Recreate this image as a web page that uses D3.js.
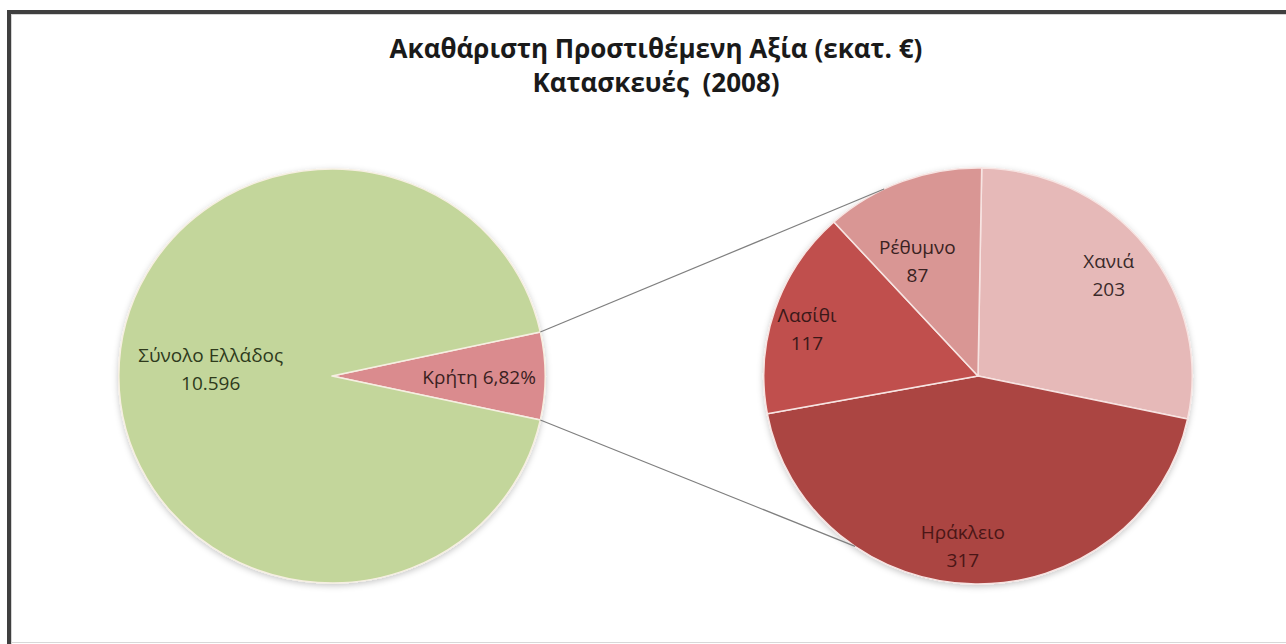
<!DOCTYPE html>
<html><head><meta charset="utf-8">
<script src="https://cdn.jsdelivr.net/npm/d3@7"></script>
<style>html,body{margin:0;padding:0;background:#fff;overflow:hidden}</style>
</head><body>
<svg id="chart" width="1286" height="644"></svg>
<script>
// ---- data ----
const titleLines = ["Ακαθάριστη Προστιθέμενη Αξία (εκατ. €)", "Κατασκευές  (2008)"];
const mainCategories = ["Κρήτη", "Σύνολο Ελλάδος"];
const cretePercent = 6.82;
const greeceTotal = 10596;
const regions = ["Χανιά", "Ηράκλειο", "Λασίθι", "Ρέθυμνο"];
const regionValues = [203, 317, 117, 87];

// ---- styles / layout ----
const mainColors = ["#da8b8e", "#c3d69b"];
const regionColors = ["#e6b9b8", "#ab4442", "#c0504d", "#d99694"];
const W = 1286, H = 644;
const sx = 1.03;                      // slight horizontal stretch of the source
const left = {cx: 332, cy: 376, r: 207};
const right = {cx: 978, cy: 376, r: 208};
const deg = Math.PI / 180;
const locale = d3.formatLocale({decimal: ",", thousands: ".", grouping: [3], currency: ["", "€"]});
const fmtInt = locale.format(",d");
const fmtPct = locale.format(".2f");

const svg = d3.select("#chart");
const defs = svg.append("defs");
const f = defs.append("filter").attr("id", "sh").attr("x", "-10%").attr("y", "-10%").attr("width", "120%").attr("height", "125%");
f.append("feDropShadow").attr("dx", 0).attr("dy", 2).attr("stdDeviation", 3).attr("flood-color", "#000").attr("flood-opacity", 0.22);

// frame
svg.append("rect").attr("x", 0).attr("y", 0).attr("width", W).attr("height", H).attr("fill", "#fff");
svg.append("rect").attr("x", 11).attr("y", 14).attr("width", W - 11).attr("height", 1).attr("fill", "#d4d4d4");
svg.append("rect").attr("x", 11).attr("y", 14).attr("width", 1).attr("height", H - 14).attr("fill", "#d4d4d4");
svg.append("rect").attr("x", 7).attr("y", 10).attr("width", W - 7).attr("height", 4).attr("fill", "#3f3f3f");
svg.append("rect").attr("x", 7).attr("y", 10).attr("width", 4).attr("height", H - 10).attr("fill", "#3f3f3f");
svg.append("rect").attr("x", 11).attr("y", H - 2).attr("width", W - 11).attr("height", 1).attr("fill", "#d8d8d8");

// title
const font = "'Open Sans', 'Noto Sans', 'DejaVu Sans', sans-serif";
const t = svg.append("g").attr("font-family", font).attr("font-weight", "bold").attr("fill", "#1a1a1a").attr("text-anchor", "middle");
t.append("text").attr("x", 656).attr("y", 58).attr("font-size", 26).text(titleLines[0]);
t.append("text").attr("x", 656).attr("y", 92).attr("font-size", 26).style("white-space", "pre").text(titleLines[1]);

// ---- left pie ----
const creteAngle = cretePercent / 100 * 2 * Math.PI;
const leftPie = d3.pie().sort(null).value(d => d)
  .startAngle(Math.PI / 2 - creteAngle / 2).endAngle(Math.PI / 2 - creteAngle / 2 + 2 * Math.PI);
const leftArcs = leftPie([cretePercent, 100 - cretePercent]);
const arcL = d3.arc().innerRadius(0).outerRadius(left.r);

const gL = svg.append("g").attr("transform", `translate(${left.cx},${left.cy}) scale(${sx},1)`).attr("filter", "url(#sh)");
gL.selectAll("path").data(leftArcs).join("path")
  .attr("d", arcL).attr("fill", (d, i) => mainColors[i])
  .attr("stroke", "#f6efe2").attr("stroke-width", 1.5).attr("stroke-linejoin", "round");

// ---- right pie ----
const rightStart = 1 * deg;
const rightPie = d3.pie().sort(null).value(d => d).startAngle(rightStart).endAngle(rightStart + 2 * Math.PI);
const rightArcs = rightPie(regionValues);
const arcR = d3.arc().innerRadius(0).outerRadius(right.r);
const gR = svg.append("g").attr("transform", `translate(${right.cx},${right.cy}) scale(${sx},1)`).attr("filter", "url(#sh)");
gR.selectAll("path").data(rightArcs).join("path")
  .attr("d", arcR).attr("fill", (d, i) => regionColors[i])
  .attr("stroke", "#f7e4e2").attr("stroke-width", 1.5).attr("stroke-linejoin", "round");

// ---- connector lines ----
function pt(c, a, r) { return [c.cx + Math.sin(a) * r * sx, c.cy - Math.cos(a) * r]; }
const crete = leftArcs[0];
const connectorTargets = [-26 * deg, 215 * deg];
const conns = [[pt(left, crete.startAngle, left.r), pt(right, connectorTargets[0], right.r)],
               [pt(left, crete.endAngle, left.r), pt(right, connectorTargets[1], right.r)]];
svg.append("g").selectAll("line").data(conns).join("line")
  .attr("x1", d => d[0][0]).attr("y1", d => d[0][1]).attr("x2", d => d[1][0]).attr("y2", d => d[1][1])
  .attr("stroke", "#7f7f7f").attr("stroke-width", 1.2);

// ---- labels ----
const lab = svg.append("g").attr("font-family", font).attr("font-size", 19).attr("text-anchor", "middle");
function midA(d) { return (d.startAngle + d.endAngle) / 2; }
// left: Greece (two lines), Crete (one line)
const gPos = pt(left, midA(leftArcs[1]) + 3.4 * deg, left.r * 0.57);
const gt = lab.append("text").attr("fill", "#2e3a1c").attr("x", gPos[0]).attr("y", gPos[1] - 7);
gt.append("tspan").attr("x", gPos[0]).text(mainCategories[1]);
gt.append("tspan").attr("x", gPos[0]).attr("dy", 28).text(fmtInt(greeceTotal));
const cPos = pt(left, midA(crete), left.r * 0.69);
lab.append("text").attr("fill", "#3a1f1f").attr("x", cPos[0]).attr("y", cPos[1] + 8)
  .text(mainCategories[0] + " " + fmtPct(cretePercent) + "%");

const labelRadius = [0.78, 0.82, 0.83, 0.62];
const labelAngleOffset = [0, 4.2, -2.8, -6.5];
const labelFill = ["#3a2a2a", "#4a1616", "#3a1818", "#3a2222"];
rightArcs.forEach((d, i) => {
  const p = pt(right, midA(d) + labelAngleOffset[i] * deg, right.r * labelRadius[i]);
  const tx = lab.append("text").attr("fill", labelFill[i]).attr("x", p[0]).attr("y", p[1] - 7);
  tx.append("tspan").attr("x", p[0]).text(regions[i]);
  tx.append("tspan").attr("x", p[0]).attr("dy", 28).text(fmtInt(regionValues[i]));
});
</script>
</body></html>
